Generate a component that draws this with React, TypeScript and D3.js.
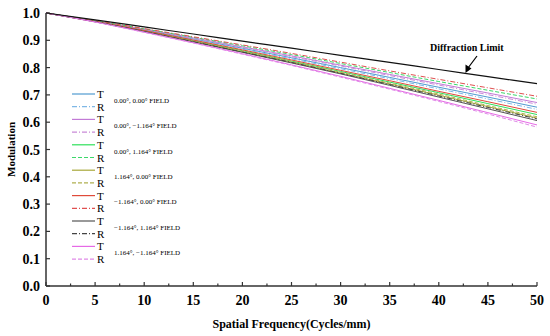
import React, { useEffect, useRef } from 'react';
import * as d3 from 'd3';

// spatial frequency samples (cycles/mm)
const freqs = [0, 5, 10, 15, 20, 25, 30, 35, 40, 45, 50];

const diffraction = [1, 0.975, 0.949, 0.923, 0.897, 0.871, 0.845, 0.819, 0.793, 0.767, 0.741];

const field1T = [1, 0.97, 0.938, 0.905, 0.871, 0.836, 0.8, 0.764, 0.728, 0.692, 0.655];
const field1R = [1, 0.969, 0.937, 0.903, 0.868, 0.832, 0.796, 0.759, 0.722, 0.685, 0.647];
const field2T = [1, 0.971, 0.941, 0.909, 0.876, 0.843, 0.809, 0.775, 0.741, 0.707, 0.672];
const field2R = [1, 0.971, 0.94, 0.907, 0.874, 0.84, 0.806, 0.771, 0.736, 0.701, 0.666];
const field3T = [1, 0.969, 0.935, 0.899, 0.862, 0.824, 0.786, 0.747, 0.708, 0.668, 0.628];
const field3R = [1, 0.972, 0.942, 0.911, 0.88, 0.848, 0.815, 0.782, 0.749, 0.717, 0.685];
const field4T = [1, 0.968, 0.933, 0.896, 0.858, 0.82, 0.78, 0.74, 0.699, 0.657, 0.615];
const field4R = [1, 0.968, 0.934, 0.897, 0.86, 0.822, 0.783, 0.743, 0.703, 0.661, 0.62];
const field5T = [1, 0.969, 0.936, 0.901, 0.865, 0.828, 0.79, 0.752, 0.713, 0.675, 0.636];
const field5R = [1, 0.972, 0.943, 0.913, 0.883, 0.852, 0.82, 0.788, 0.757, 0.726, 0.695];
const field6T = [1, 0.968, 0.932, 0.894, 0.856, 0.817, 0.777, 0.735, 0.692, 0.649, 0.606];
const field6R = [1, 0.968, 0.932, 0.895, 0.857, 0.819, 0.779, 0.738, 0.696, 0.654, 0.612];
const field7T = [1, 0.967, 0.93, 0.891, 0.851, 0.81, 0.768, 0.724, 0.68, 0.635, 0.59];
const field7R = [1, 0.967, 0.929, 0.89, 0.849, 0.808, 0.765, 0.721, 0.676, 0.63, 0.582];

const fieldLabels = [
  '0.00°, 0.00° FIELD',
  '0.00°, −1.164° FIELD',
  '0.00°, 1.164° FIELD',
  '1.164°, 0.00° FIELD',
  '−1.164°, 0.00° FIELD',
  '−1.164°, 1.164° FIELD',
  '1.164°, −1.164° FIELD',
];

const yTicks = [0, 0.1, 0.2, 0.3, 0.4, 0.5, 0.6, 0.7, 0.8, 0.9, 1.0];
const xTicks = [0, 5, 10, 15, 20, 25, 30, 35, 40, 45, 50];

const series = [
  { values: field1T, color: '#4f9bd0', dash: null },
  { values: field1R, color: '#7fb8e6', dash: '5,2,1,2' },
  { values: field2T, color: '#c27ad6', dash: null },
  { values: field2R, color: '#c98ad8', dash: '5,2,1,2' },
  { values: field3T, color: '#2fe05a', dash: null },
  { values: field3R, color: '#3cd86a', dash: '4,2' },
  { values: field4T, color: '#a8a83a', dash: null },
  { values: field4R, color: '#b0b050', dash: '4,2' },
  { values: field5T, color: '#e04a3a', dash: null },
  { values: field5R, color: '#e05050', dash: '5,2,1,2' },
  { values: field6T, color: '#555555', dash: null },
  { values: field6R, color: '#444444', dash: '5,2,1,2' },
  { values: field7T, color: '#e66ae6', dash: null },
  { values: field7R, color: '#e08ae8', dash: '4,2' },
];

const FONT = '"Liberation Serif", "Times New Roman", serif';

const MtfChart = () => {
  const svgRef = useRef<SVGSVGElement>(null);

  useEffect(() => {
    const svg = d3.select(svgRef.current);
    svg.selectAll('*').remove();

    const left = 46, right = 537, top = 13, bottom = 286;

    const x = d3.scaleLinear().domain([0, 50]).range([left, right]);
    const y = d3.scaleLinear().domain([0, 1]).range([bottom, top]);

    const line = d3.line<number>()
      .x((d, i) => x(freqs[i]))
      .y(d => y(d))
      .curve(d3.curveMonotoneX);

    // curves
    series.forEach(s => {
      svg.append('path')
        .datum(s.values)
        .attr('fill', 'none')
        .attr('stroke', s.color)
        .attr('stroke-width', 1)
        .attr('stroke-dasharray', s.dash)
        .attr('d', line);
    });

    svg.append('path')
      .datum(diffraction)
      .attr('fill', 'none')
      .attr('stroke', '#111')
      .attr('stroke-width', 1.2)
      .attr('d', line);

    // axes
    const axisColor = '#333';
    svg.append('line')
      .attr('x1', left).attr('x2', left).attr('y1', top).attr('y2', bottom)
      .attr('stroke', axisColor).attr('stroke-width', 1.5);
    svg.append('line')
      .attr('x1', left).attr('x2', right).attr('y1', bottom).attr('y2', bottom)
      .attr('stroke', axisColor).attr('stroke-width', 1.5);

    yTicks.forEach(t => {
      svg.append('line')
        .attr('x1', left).attr('x2', left + 4)
        .attr('y1', y(t)).attr('y2', y(t))
        .attr('stroke', axisColor).attr('stroke-width', 1.2);
      svg.append('text')
        .attr('x', left - 6).attr('y', y(t) + 5)
        .attr('text-anchor', 'end')
        .attr('font-family', FONT).attr('font-weight', 'bold').attr('font-size', 14)
        .text(t.toFixed(1));
    });

    xTicks.forEach(t => {
      svg.append('line')
        .attr('x1', x(t)).attr('x2', x(t))
        .attr('y1', bottom).attr('y2', bottom - 4)
        .attr('stroke', axisColor).attr('stroke-width', 1.2);
      if (t < 50) {
        svg.append('line')
          .attr('x1', x(t + 2.5)).attr('x2', x(t + 2.5))
          .attr('y1', bottom).attr('y2', bottom - 2.5)
          .attr('stroke', axisColor).attr('stroke-width', 1.2);
      }
      svg.append('text')
        .attr('x', x(t)).attr('y', bottom + 19)
        .attr('text-anchor', 'middle')
        .attr('font-family', FONT).attr('font-weight', 'bold').attr('font-size', 14)
        .text(t);
    });

    svg.append('text')
      .attr('x', x(25)).attr('y', 328)
      .attr('text-anchor', 'middle')
      .attr('font-family', FONT).attr('font-weight', 'bold').attr('font-size', 12)
      .text('Spatial Frequency(Cycles/mm)');

    svg.append('text')
      .attr('transform', `translate(15,${(top + bottom) / 2}) rotate(-90)`)
      .attr('text-anchor', 'middle')
      .attr('font-family', FONT).attr('font-weight', 'bold').attr('font-size', 11)
      .text('Modulation');

    // diffraction limit annotation
    svg.append('text')
      .attr('x', 430).attr('y', 51)
      .attr('font-family', FONT).attr('font-weight', 'bold').attr('font-size', 10)
      .text('Diffraction Limit');
    svg.append('line')
      .attr('x1', 477).attr('y1', 56).attr('x2', 468).attr('y2', 68)
      .attr('stroke', '#000').attr('stroke-width', 1.2);
    svg.append('path')
      .attr('d', 'M465.5,73 L465.5,64.5 L471.5,68.5 Z')
      .attr('fill', '#000');

    // legend
    const legendTop = 94, rowH = 12.7;
    series.forEach((s, i) => {
      const ly = legendTop + i * rowH;
      svg.append('line')
        .attr('x1', 72).attr('x2', 95).attr('y1', ly).attr('y2', ly)
        .attr('stroke', s.color).attr('stroke-width', 1.2)
        .attr('stroke-dasharray', s.dash);
      svg.append('text')
        .attr('x', 97).attr('y', ly + 4)
        .attr('font-family', FONT).attr('font-size', 11)
        .text(i % 2 === 0 ? 'T' : 'R');
    });
    fieldLabels.forEach((lab, i) => {
      svg.append('text')
        .attr('x', 114).attr('y', legendTop + (2 * i + 0.5) * rowH + 2.5)
        .attr('font-family', FONT).attr('font-size', 7)
        .text(lab);
    });
  }, []);

  return <svg ref={svgRef} width={550} height={336} style={{ display: 'block' }} />;
};

export default function App() {
  return (
    <div style={{ position: 'absolute', left: 0, top: 0, background: '#fff' }}>
      <MtfChart />
    </div>
  );
}
